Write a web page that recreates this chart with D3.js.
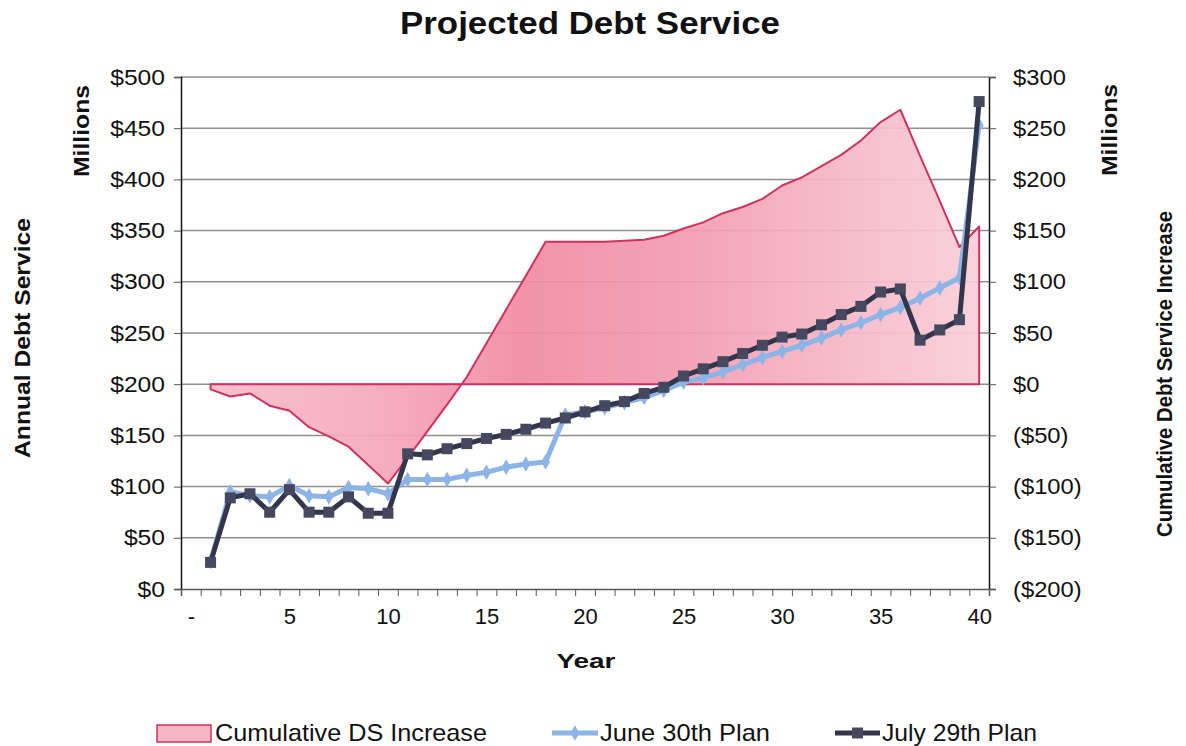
<!DOCTYPE html>
<html lang="en">

<head>
  <meta charset="UTF-8">
  <title>Projected Debt Service</title>
  <style>
    body {
      margin: 0;
      background: #fff;
    }

    text {
      font-family: Arial, "Liberation Sans", sans-serif;
      fill: #111;
    }
  </style>
</head>

<body>

  <script src="https://d3js.org/d3.v7.min.js"></script>

  <script>
    // years 1..40, values in $ millions
    const years = d3.range(1, 41);

    const cumulativeIncrease = [
      -5, -12, -9, -21, -26, -42, -51, -61, -79, -97,
      -72, -46, -20, 7, 40, 73, 106, 139, 139, 139,
      139, 140, 141, 145, 152, 158, 167, 173, 181, 194,
      202, 213, 224, 238, 256, 268, 223, 179, 134, 154
    ];

    const june30Plan = [
      27, 95, 91, 90, 101, 91, 90, 99, 98, 93,
      107, 107, 107, 111, 114, 119, 122, 124, 170, 173,
      177, 182, 187, 194, 202, 206, 212, 219, 226, 232,
      238, 245, 253, 260, 268, 275, 284, 294, 304, 453
    ];

    const july29Plan = [
      26, 89, 93, 75, 97, 75, 75, 90, 74, 74,
      132, 131, 137, 142, 147, 151, 156, 162, 167, 173,
      179, 183, 191, 197, 208, 215, 222, 230, 238, 246,
      249, 258, 268, 276, 290, 293, 243, 253, 263, 476
    ];

    const leftTicks = d3.range(0, 501, 50);
    const rightTicks = d3.range(-200, 301, 50);
    const xLabelTicks = [0, 5, 10, 15, 20, 25, 30, 35, 40];

    const width = 1186, height = 746;
    const plot = { left: 181, right: 989, top: 77, bottom: 589 };

    const svg = d3.select("body").append("svg")
      .attr("width", width)
      .attr("height", height);

    const x = d3.scaleLinear().domain([-0.5, 40.5]).range([plot.left, plot.right]);
    const yL = d3.scaleLinear().domain([0, 500]).range([plot.bottom, plot.top]);
    const yR = d3.scaleLinear().domain([-200, 300]).range([plot.bottom, plot.top]);

    // stretch text horizontally a little, like the scanned original
    function stretch(sel, k) {
      sel.each(function () {
        const w = this.getComputedTextLength();
        d3.select(this).attr("textLength", w * k).attr("lengthAdjust", "spacingAndGlyphs");
      });
    }

    // gradient for the area
    const grad = svg.append("defs").append("linearGradient")
      .attr("id", "pinkGrad")
      .attr("gradientUnits", "userSpaceOnUse")
      .attr("x1", plot.left).attr("x2", plot.right)
      .attr("y1", 0).attr("y2", 0);
    [[0, "#f7bfcc"], [0.25, "#f5a7b9"], [0.42, "#f08aa2"], [0.62, "#f29bb0"], [1, "#f9d0da"]]
      .forEach(([o, c]) => grad.append("stop").attr("offset", o).attr("stop-color", c));

    // gridlines
    svg.append("g")
      .selectAll("line")
      .data(leftTicks.filter(d => d > 0))
      .join("line")
      .attr("x1", plot.left).attr("x2", plot.right)
      .attr("y1", d => yL(d)).attr("y2", d => yL(d))
      .attr("stroke", "#8f8f8f")
      .attr("stroke-width", 1.5);

    // cumulative area (right axis)
    const area = d3.area()
      .x((d, i) => x(years[i]))
      .y0(yR(0))
      .y1(d => yR(d));

    svg.append("path")
      .datum(cumulativeIncrease)
      .attr("d", area)
      .attr("fill", "url(#pinkGrad)")
      .attr("fill-opacity", 0.92)
      .attr("stroke", "#d0325f")
      .attr("stroke-width", 2)
      .attr("stroke-linejoin", "round");

    // plan lines (left axis)
    const line = d3.line()
      .x((d, i) => x(years[i]))
      .y(d => yL(d));

    svg.append("path")
      .datum(june30Plan)
      .attr("d", line)
      .attr("fill", "none")
      .attr("stroke", "#8db4e6")
      .attr("stroke-width", 5);

    svg.append("g")
      .selectAll("path")
      .data(june30Plan)
      .join("path")
      .attr("transform", (d, i) => `translate(${x(years[i])},${yL(d)})`)
      .attr("d", d3.symbol(d3.symbolDiamond, 70))
      .attr("fill", "#8db4e6");

    svg.append("path")
      .datum(july29Plan)
      .attr("d", line)
      .attr("fill", "none")
      .attr("stroke", "#33364b")
      .attr("stroke-width", 5);

    svg.append("g")
      .selectAll("rect")
      .data(july29Plan)
      .join("rect")
      .attr("x", (d, i) => x(years[i]) - 5.5)
      .attr("y", d => yL(d) - 5.5)
      .attr("width", 11)
      .attr("height", 11)
      .attr("fill", "#45485f");

    // left axis
    const leftAxis = svg.append("g")
      .attr("transform", `translate(${plot.left},0)`)
      .call(d3.axisLeft(yL).tickValues(leftTicks).tickSize(7).tickPadding(9)
        .tickFormat(d => "$" + d));
    leftAxis.select(".domain").attr("stroke", "#111").attr("stroke-width", 1.5);
    leftAxis.selectAll(".tick line").attr("stroke", "#555");
    leftAxis.selectAll("text").attr("font-size", 22).attr("fill", "#111").call(stretch, 1.12);

    // right axis
    const rightAxis = svg.append("g")
      .attr("transform", `translate(${plot.right},0)`)
      .call(d3.axisRight(yR).tickValues(rightTicks).tickSize(7).tickPadding(17)
        .tickFormat(d => d < 0 ? "($" + (-d) + ")" : "$" + d));
    rightAxis.select(".domain").attr("stroke", "#111").attr("stroke-width", 1.5);
    rightAxis.selectAll(".tick line").attr("stroke", "#555");
    rightAxis.selectAll("text").attr("font-size", 22).attr("fill", "#111").call(stretch, 1.08);

    // bottom axis: small ticks between categories, labels every 5 years
    const bottom = svg.append("g").attr("transform", `translate(0,${plot.bottom})`);
    bottom.call(d3.axisBottom(x).tickValues(d3.range(-0.5, 41, 1)).tickSize(7).tickFormat(""));
    bottom.select(".domain").attr("stroke", "#555").attr("stroke-width", 1.5);
    bottom.selectAll(".tick line").attr("stroke", "#555");

    const bottomLabels = svg.append("g").attr("transform", `translate(0,${plot.bottom})`)
      .call(d3.axisBottom(x).tickValues(xLabelTicks).tickSize(0).tickPadding(19)
        .tickFormat(d => d === 0 ? "-" : d));
    bottomLabels.select(".domain").remove();
    bottomLabels.selectAll("text").attr("font-size", 22).attr("fill", "#111");

    // titles
    svg.append("text")
      .attr("x", 590).attr("y", 34)
      .attr("text-anchor", "middle")
      .attr("font-size", 31)
      .attr("font-weight", "bold")
      .attr("textLength", 380)
      .attr("lengthAdjust", "spacingAndGlyphs")
      .text("Projected Debt Service");

    svg.append("text")
      .attr("x", 586).attr("y", 668)
      .attr("text-anchor", "middle")
      .attr("font-size", 21)
      .attr("font-weight", "bold")
      .attr("textLength", 59)
      .attr("lengthAdjust", "spacingAndGlyphs")
      .text("Year");

    const vLabel = (cx, cy, txt, len, size) => svg.append("text")
      .attr("transform", `translate(${cx},${cy}) rotate(-90)`)
      .attr("text-anchor", "middle")
      .attr("dy", "0.35em")
      .attr("font-size", size)
      .attr("font-weight", "bold")
      .attr("textLength", len)
      .attr("lengthAdjust", "spacingAndGlyphs")
      .text(txt);

    vLabel(81, 131, "Millions", 92, 22);
    vLabel(22, 338, "Annual Debt Service", 240, 22);
    vLabel(1109, 130, "Millions", 92, 22);
    vLabel(1164, 374, "Cumulative Debt Service Increase", 326, 22);

    // legend
    const legend = svg.append("g").attr("transform", "translate(0,733)");

    legend.append("rect")
      .attr("x", 157).attr("y", -8).attr("width", 54).attr("height", 17)
      .attr("fill", "#f5b7c6").attr("stroke", "#d0325f").attr("stroke-width", 1.5);
    legend.append("text").attr("x", 215).attr("dy", "0.35em").attr("font-size", 24)
      .attr("textLength", 272).attr("lengthAdjust", "spacingAndGlyphs")
      .text("Cumulative  DS Increase");

    legend.append("line").attr("x1", 552).attr("x2", 598).attr("y1", 0).attr("y2", 0)
      .attr("stroke", "#8db4e6").attr("stroke-width", 5);
    legend.append("path").attr("transform", "translate(575,0)")
      .attr("d", d3.symbol(d3.symbolDiamond, 70)).attr("fill", "#8db4e6");
    legend.append("text").attr("x", 600).attr("dy", "0.35em").attr("font-size", 24)
      .attr("textLength", 170).attr("lengthAdjust", "spacingAndGlyphs")
      .text("June 30th  Plan");

    legend.append("line").attr("x1", 835).attr("x2", 880).attr("y1", 0).attr("y2", 0)
      .attr("stroke", "#33364b").attr("stroke-width", 5);
    legend.append("rect").attr("x", 852).attr("y", -5.5).attr("width", 11).attr("height", 11)
      .attr("fill", "#45485f");
    legend.append("text").attr("x", 882).attr("dy", "0.35em").attr("font-size", 24)
      .attr("textLength", 155).attr("lengthAdjust", "spacingAndGlyphs")
      .text("July 29th  Plan");
  </script>
</body>

</html>
